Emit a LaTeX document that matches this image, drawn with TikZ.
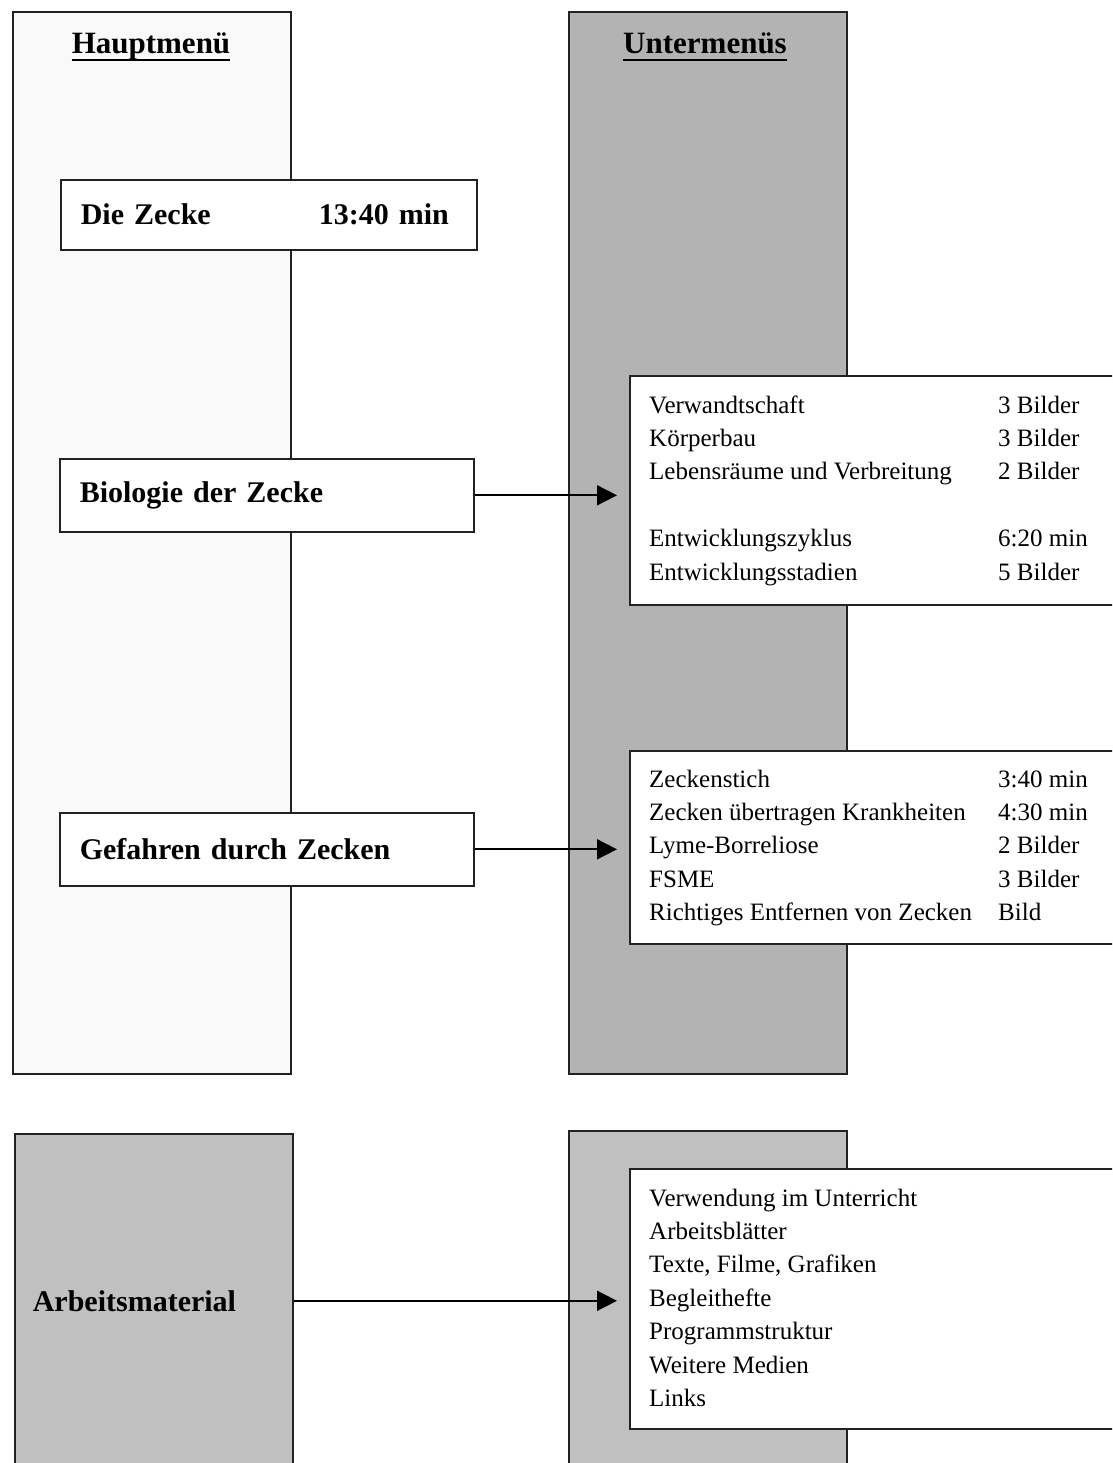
\documentclass[tikz,border=0pt]{standalone}
\usepackage{fontspec}
\setmainfont{Liberation Serif}
\usetikzlibrary{arrows.meta,positioning}
\definecolor{hellgrau}{HTML}{F9F9F9}
\definecolor{mittelgrau}{HTML}{B3B3B3}
\definecolor{grau}{HTML}{C0C0C0}
\definecolor{rand}{HTML}{222222}
\tikzset{
  spalte/.style={draw=rand, line width=1.6pt, anchor=north west, inner sep=0pt, minimum width=278pt},
  titel/.style={font=\fontsize{31}{36}\selectfont\bfseries, inner sep=0pt, anchor=base},
  punkt/.style={draw=rand, fill=white, line width=1.6pt, anchor=north west, align=left,
    font=\fontsize{30}{36}\selectfont\bfseries, inner xsep=20pt, inner ysep=0pt, minimum height=73pt},
  unterbox/.style={draw=rand, fill=white, line width=1.6pt, anchor=north west, minimum width=520pt, inner sep=0pt},
  liste/.style={font=\fontsize{25}{33.4}\selectfont, anchor=base west, inner sep=0pt, align=left},
  pfeil/.style={-{Triangle[length=20pt,width=20pt]}, line width=1.7pt, shorten >=12pt}
}
\begin{document}
\begin{tikzpicture}[x=1pt,y=-1pt]
        \useasboundingbox (0,0) rectangle (1112,1463);
        \clip (0,0) rectangle (1112,1463);
        % Spalten oben
        \node[spalte, fill=hellgrau, minimum height=1062pt] (haupt) at (12,11) {};
        \node[spalte, fill=mittelgrau, minimum height=1062pt] (unter) at (568,11) {};
        % Ueberschriften
        \node[titel] (hm) at (151,54) {Hauptmenü};
        \node[titel] (um) at (705,54) {Untermenüs};
        \draw[line width=2.6pt] ([yshift=-6pt]hm.base west) -- ([yshift=-6pt]hm.base east);
        \draw[line width=2.6pt] ([yshift=-6pt]um.base west) -- ([yshift=-6pt]um.base east);
        % Hauptmenuepunkte
        \node[punkt, text width=376pt, minimum height=70pt] (zecke) at (60,179)
          {\makebox[238pt][l]{Die Zecke}13:40 min};
        \node[punkt, text width=374pt] (bio) at (59,458) {Biologie der Zecke};
        \node[punkt, text width=374pt] (gef) at (59,812) {Gefahren durch Zecken};
        % Untermenues
        \node[unterbox, minimum height=229pt] (sub1) at (629,375) {};
        \node[liste] (liste1) at (649,413) {\begin{tabular}[t]{@{}p{349pt}@{}l@{}}
          Verwandtschaft & 3 Bilder\\
          Körperbau & 3 Bilder\\
          Lebensräume und Verbreitung & 2 Bilder\\
          & \\
          Entwicklungszyklus & 6:20 min\\
          Entwicklungsstadien & 5 Bilder
        \end{tabular}};
        \node[unterbox, minimum height=193pt] (sub2) at (629,750) {};
        \node[liste] (liste2) at (649,787) {\begin{tabular}[t]{@{}p{349pt}@{}l@{}}
          Zeckenstich & 3:40 min\\
          Zecken übertragen Krankheiten & 4:30 min\\
          Lyme-Borreliose & 2 Bilder\\
          FSME & 3 Bilder\\
          Richtiges Entfernen von Zecken & Bild
        \end{tabular}};
        % Pfeile oben
        \draw[pfeil] (bio.east) -- (bio.east -| sub1.west);
        \draw[pfeil] (gef.east) -- (gef.east -| sub2.west);
        % Arbeitsmaterial unten
        \node[spalte, fill=grau, minimum height=334pt, align=left, inner xsep=18pt,
          text width=242pt, font=\fontsize{30}{36}\selectfont\bfseries] (am) at (14,1133) {Arbeitsmaterial};
        \node[spalte, fill=grau, minimum height=337pt] (unter2) at (568,1130) {};
        \node[unterbox, minimum height=260pt] (sub3) at (629,1168) {};
        \node[liste] (liste3) at (649,1206) {\begin{tabular}[t]{@{}l@{}}
          Verwendung im Unterricht\\
          Arbeitsblätter\\
          Texte, Filme, Grafiken\\
          Begleithefte\\
          Programmstruktur\\
          Weitere Medien\\
          Links
        \end{tabular}};
        \draw[pfeil] (am.east) -- (am.east -| sub3.west);
      \end{tikzpicture}
\end{document}
